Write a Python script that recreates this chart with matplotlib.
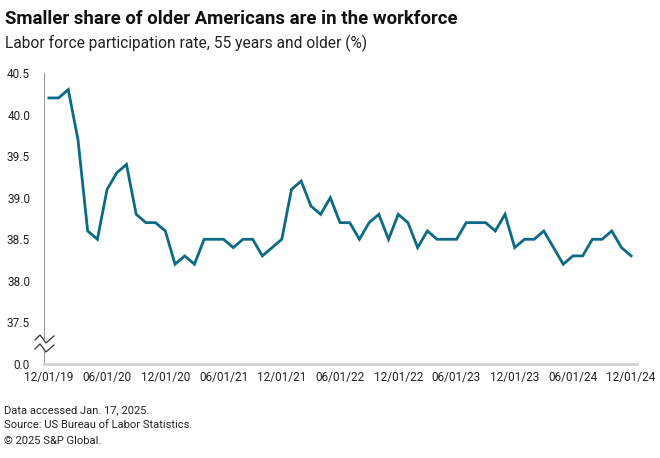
import numpy as np
import matplotlib
matplotlib.use("Agg")
import matplotlib.pyplot as plt
import matplotlib.transforms as mtransforms

plt.rcParams['font.family'] = ['Roboto', 'DejaVu Sans']

# monthly labor force participation rate, 55+ (%), 12/2019 .. 12/2024
rate = [40.2,
        40.2, 40.3, 39.7, 38.6, 38.5, 39.1, 39.3, 39.4, 38.8, 38.7, 38.7, 38.6,
        38.2, 38.3, 38.2, 38.5, 38.5, 38.5, 38.4, 38.5, 38.5, 38.3, 38.4, 38.5,
        39.1, 39.2, 38.9, 38.8, 39.0, 38.7, 38.7, 38.5, 38.7, 38.8, 38.5, 38.8,
        38.7, 38.4, 38.6, 38.5, 38.5, 38.5, 38.7, 38.7, 38.7, 38.6, 38.8, 38.4,
        38.5, 38.5, 38.6, 38.4, 38.2, 38.3, 38.3, 38.5, 38.5, 38.6, 38.4, 38.3]
x_labels = ["12/01/19", "06/01/20", "12/01/20", "06/01/21", "12/01/21", "06/01/22",
            "12/01/22", "06/01/23", "12/01/23", "06/01/24", "12/01/24"]
y_ticks = [37.0, 37.5, 38.0, 38.5, 39.0, 39.5, 40.0, 40.5]
y_labels = ["0.0", "37.5", "38.0", "38.5", "39.0", "39.5", "40.0", "40.5"]

months = np.arange(len(rate))

fig = plt.figure(figsize=(6.6, 4.58), dpi=100)
ax = fig.add_axes([44/660, 1-364/458, (637-44)/660, (364-73)/458])

ax.plot(months, rate, color='#0b6a84', lw=2.0, solid_joinstyle='miter')

ax.set_xlim(-0.5, 60.6)
ax.set_ylim(37.0, 40.5)
ax.set_xticks(months[::6])
ax.set_xticklabels(x_labels)
ax.set_yticks(y_ticks)
ax.set_yticklabels(y_labels)
ax.tick_params(axis='both', length=0, labelsize=8.5, colors='#222222')
ax.tick_params(axis='y', pad=10)
ax.tick_params(axis='x', pad=5)

for s in ['top', 'right']:
    ax.spines[s].set_visible(False)
ax.spines['left'].set_color('#9a9a9a')
ax.spines['left'].set_linewidth(0.8)
ax.spines['bottom'].set_color('#d3d3d3')
ax.spines['bottom'].set_linewidth(2.0)

# axis break symbol (two zigzags across the y axis)
tr = mtransforms.blended_transform_factory(ax.transAxes, ax.transData)
bx = np.array([-0.0152, -0.0067, 0.0034, 0.0169])
top_y = np.array([37.289, 37.349, 37.253, 37.337])
bot_y = top_y - 0.108
ax.fill_between(bx, bot_y, top_y, color='white', transform=tr, clip_on=False, zorder=3)
ax.plot(bx, top_y, color='#333333', lw=0.9, transform=tr, clip_on=False, zorder=4)
ax.plot(bx, bot_y, color='#333333', lw=0.9, transform=tr, clip_on=False, zorder=4)

fig.text(5/660, 1-19/458, "Smaller share of older Americans are in the workforce",
         fontsize=13.4, fontweight='bold', va='center', ha='left', color='#111111')
fig.text(5/660, 1-43/458, "Labor force participation rate, 55 years and older (%)",
         fontsize=11.2, va='center', ha='left', color='#222222')

foot = ["Data accessed Jan. 17, 2025.",
        "Source: US Bureau of Labor Statistics.",
        "\u00a9 2025 S&P Global."]
for i, t in enumerate(foot):
    fig.text(4/660, 1-(410 + 15.5*i)/458, t, fontsize=8.0, va='center', ha='left', color='#222222')

fig.savefig("out.png", dpi=100)
